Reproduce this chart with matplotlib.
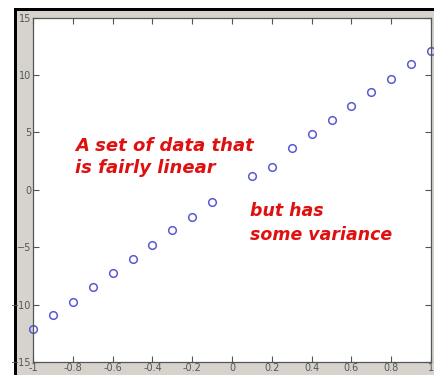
import numpy as np
import matplotlib.pyplot as plt
from matplotlib.patches import Rectangle

# data (no point at x = 0)
x = [-1.0, -0.9, -0.8, -0.7, -0.6, -0.5, -0.4, -0.3, -0.2, -0.1,
     0.1, 0.2, 0.3, 0.4, 0.5, 0.6, 0.7, 0.8, 0.9, 1.0]
y = [-12.13, -10.94, -9.75, -8.47, -7.28, -6.06, -4.79, -3.53, -2.37, -1.09,
     1.20, 2.01, 3.61, 4.86, 6.08, 7.30, 8.49, 9.65, 10.93, 12.11]

xticks = [-1, -0.8, -0.6, -0.4, -0.2, 0, 0.2, 0.4, 0.6, 0.8, 1]
xticklabels = ['-1', '-0.8', '-0.6', '-0.4', '-0.2', '0', '0.2', '0.4', '0.6', '0.8', '1']
yticks = [-15, -10, -5, 0, 5, 10, 15]

W, H = 434, 375
fig = plt.figure(figsize=(W / 100, H / 100), dpi=100, facecolor='white')

# window frame: grey panel with a dark edge at top and left
fig.patches.append(Rectangle((14 / W, 0), 1, 1 - 8 / H, transform=fig.transFigure,
                             facecolor='#d6d3cc', edgecolor='none', zorder=-2))
fig.patches.append(Rectangle((14 / W, 1 - 11 / H), 1, 3 / H, transform=fig.transFigure,
                             facecolor='black', edgecolor='none', zorder=-1))
fig.patches.append(Rectangle((14 / W, 0), 2.5 / W, 1 - 8 / H, transform=fig.transFigure,
                             facecolor='black', edgecolor='none', zorder=-1))

ax = fig.add_axes([33 / W, 1 - 362 / H, (431 - 33) / W, (362 - 17.5) / H])
ax.set_zorder(2)
ax.set_facecolor('white')
ax.plot(x, y, 'o', mfc='none', mec='#5a5ad0', ms=5.5, mew=1.1, clip_on=False)

ax.set_xlim(-1, 1)
ax.set_ylim(-15, 15)
ax.set_xticks(xticks)
ax.set_xticklabels(xticklabels)
ax.set_yticks(yticks)
ax.tick_params(direction='in', top=True, right=True, length=4, width=0.8,
               labelsize=7, colors='#555555', pad=1)
for s in ax.spines.values():
    s.set_color('#555555')
    s.set_linewidth(0.9)

ax.text(-0.79, 4.6, 'A set of data that\nis fairly linear', color='#e01010',
        fontsize=13, fontweight='bold', style='italic', va='top', ha='left',
        linespacing=1.27)
ax.text(0.09, -1.07, 'but has\nsome variance', color='#e01010',
        fontsize=12.5, fontweight='bold', style='italic', va='top', ha='left',
        linespacing=1.4)

fig.savefig('out.png', dpi=100, facecolor=fig.get_facecolor())
